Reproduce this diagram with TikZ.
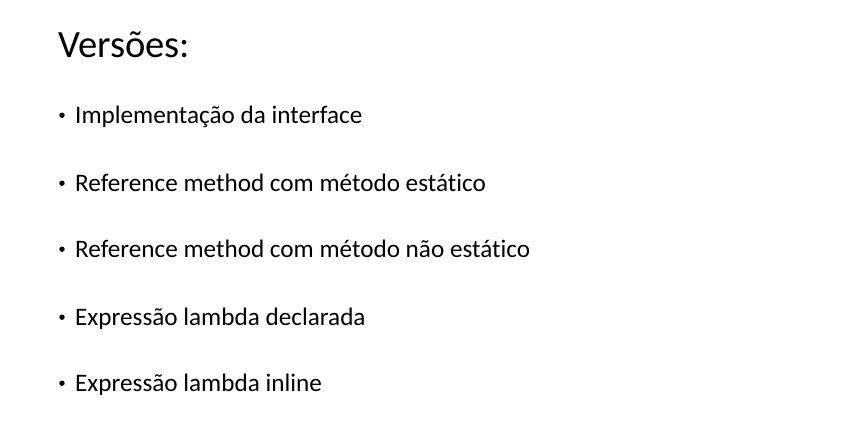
\documentclass[tikz,border=0pt]{standalone}
\usepackage{fontspec}
\setmainfont[Ligatures=NoCommon]{Carlito}
\usetikzlibrary{positioning}
\tikzset{
    item/.style={anchor=base west,inner sep=0pt,font=\fontsize{25.2}{30}\selectfont},
    dot/.style={circle,fill=black,inner sep=0pt,minimum size=5.4pt}
}

\begin{document}
\begin{tikzpicture}[x=1pt,y=-1pt]
    \useasboundingbox[fill=white] (0,0) rectangle (855,432);
    \node[anchor=base west,inner sep=0pt,font=\fontsize{38.6}{44}\selectfont] (title) at (58,57) {Versões:};
    \node[item] (impl) at (75,123) {Implementação da interface};
    \node[item] (refstat) at (75,191) {Reference method com método estático};
    \node[item] (refnstat) at (75,257) {Reference method com método não estático};
    \node[item] (lambdadecl) at (75,325) {Expressão lambda declarada};
    \node[item] (lambdainl) at (75,391) {Expressão lambda inline};
    \foreach \n in {impl,refstat,refnstat,lambdadecl,lambdainl}
        \node[dot] at ([shift={(-13,-7.8)}]\n.base west) {};
\end{tikzpicture}
\end{document}
